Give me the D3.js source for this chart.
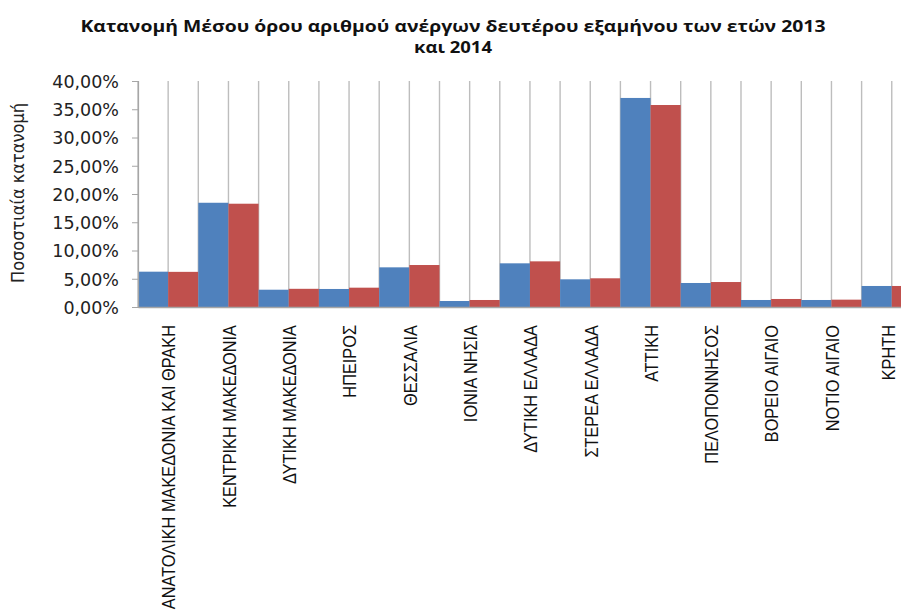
<!DOCTYPE html>
<html><head><meta charset="utf-8">
<script src="https://cdn.jsdelivr.net/npm/d3@7"></script>
<style>html,body{margin:0;padding:0;background:#fff;overflow:hidden}</style>
</head><body>
<svg id="c" width="901" height="614"></svg>
<script>
const titleLines = ["Κατανομή Μέσου όρου αριθμού ανέργων δευτέρου εξαμήνου των ετών 2013", "και 2014"];
const yTitle = "Ποσοστιαία κατανομή";
const categories = ["ΑΝΑΤΟΛΙΚΗ ΜΑΚΕΔΟΝΙΑ ΚΑΙ ΘΡΑΚΗ","ΚΕΝΤΡΙΚΗ ΜΑΚΕΔΟΝΙΑ","ΔΥΤΙΚΗ ΜΑΚΕΔΟΝΙΑ","ΗΠΕΙΡΟΣ","ΘΕΣΣΑΛΙΑ","ΙΟΝΙΑ ΝΗΣΙΑ","ΔΥΤΙΚΗ ΕΛΛΑΔΑ","ΣΤΕΡΕΑ ΕΛΛΑΔΑ","ΑΤΤΙΚΗ","ΠΕΛΟΠΟΝΝΗΣΟΣ","ΒΟΡΕΙΟ ΑΙΓΑΙΟ","ΝΟΤΙΟ ΑΙΓΑΙΟ","ΚΡΗΤΗ"];
const seriesNames = ["2013","2014"];
const values2013 = [6.25,18.45,3.06,3.19,7.02,1.06,7.73,4.90,37.00,4.25,1.24,1.24,3.72];
const values2014 = [6.22,18.28,3.22,3.42,7.43,1.24,8.08,5.08,35.75,4.42,1.42,1.30,3.72];
const yTicks = [0,5,10,15,20,25,30,35,40];
const colors = ["#4F81BD","#C0504D"];

(function(){
const svg = d3.select("#c");
const mLeft = 138, mTop = 81, mBottom = 307, catW = 60.3;
const x = d3.scaleBand().domain(categories).range([mLeft, mLeft + catW*categories.length]).padding(0);
const xs = d3.scaleBand().domain(seriesNames).range([0, x.bandwidth()]).padding(0);
const y = d3.scaleLinear().domain([0,40]).range([mBottom, mTop]);
const fmt = v => d3.format(".2f")(v).replace(".", ",") + "%";

// vertical gridlines at every bar edge
const gridX = [];
categories.forEach(c => seriesNames.forEach(s => gridX.push(x(c) + xs(s))));
svg.append("g").selectAll("line").data(gridX).join("line")
  .attr("x1", d => d).attr("x2", d => d).attr("y1", y(40)).attr("y2", y(0))
  .attr("stroke", "#BDBDBD").attr("stroke-width", 1.4);

// bars
const data = [values2013, values2014];
const g = svg.append("g");
categories.forEach((c, i) => {
  seriesNames.forEach((s, j) => {
    g.append("rect")
      .attr("x", x(c) + xs(s)).attr("width", xs.bandwidth())
      .attr("y", y(data[j][i])).attr("height", y(0) - y(data[j][i]))
      .attr("fill", colors[j]);
  });
});

// y axis
const yAxis = d3.axisLeft(y).tickValues(yTicks).tickSize(6).tickFormat(fmt);
const ya = svg.append("g").attr("transform", `translate(${mLeft},0)`).call(yAxis);
ya.select(".domain").attr("stroke", "#A6A6A6").attr("stroke-width", 1.2);
ya.selectAll(".tick line").attr("stroke", "#A6A6A6");
ya.selectAll(".tick text").attr("font-family", "DejaVu Sans").attr("font-size", 17.5)
  .attr("fill", "#222").attr("x", -19).attr("dy", "0.36em");

// x axis line
const xa = svg.append("g").attr("transform", `translate(0,${mBottom})`)
  .call(d3.axisBottom(x).tickSize(0).tickFormat(""));
xa.select(".domain").attr("stroke", "#A6A6A6").attr("stroke-width", 1.5);

// category labels
const labels = svg.append("g").selectAll("text").data(categories).join("text")
  .attr("font-family", "Liberation Sans, Arial, sans-serif").attr("font-size", 18)
  .attr("fill", "#111").attr("text-anchor", "end").attr("dominant-baseline", "central")
  .text(d => d);
const ref = labels.filter(d => d === "ΚΕΝΤΡΙΚΗ ΜΑΚΕΔΟΝΙΑ").node().getComputedTextLength();
const sc = 183 / ref;
labels.attr("transform", d => `translate(${Math.min(x(d) + x.bandwidth()/2 + 1, 889)},325) rotate(-90) scale(${sc},1)`);

// y title
svg.append("text").attr("font-family", "DejaVu Sans").attr("font-size", 17)
  .attr("fill", "#222").attr("text-anchor", "middle")
  .attr("transform", `translate(24,193) rotate(-90)`)
  .attr("textLength", 180).attr("lengthAdjust", "spacingAndGlyphs")
  .text(yTitle);

// title
const tl = [745, 78], ty = [31.5, 53.3];
titleLines.forEach((t, i) => {
  svg.append("text").attr("font-family", "Open Sans, Liberation Sans, sans-serif").attr("font-weight", "bold")
    .attr("font-size", 16).attr("fill", "#111").attr("text-anchor", "middle")
    .attr("x", 453).attr("y", ty[i])
    .attr("textLength", tl[i]).attr("lengthAdjust", "spacingAndGlyphs")
    .text(t);
});
})();
</script>
</body></html>
